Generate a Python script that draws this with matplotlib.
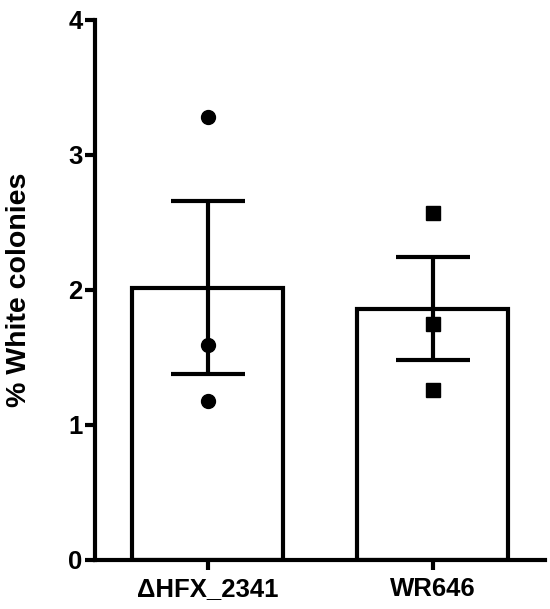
import numpy as np
import matplotlib
matplotlib.use("Agg")
import matplotlib.pyplot as plt

# data (% white colonies, 3 replicates each)
groups = ["\u0394HFX_2341", "WR646"]
reps_dhfx = [3.28, 1.59, 1.18]
reps_wr646 = [2.57, 1.75, 1.26]
yticks = [0, 1, 2, 3, 4]

plt.rcParams['font.family'] = ['Liberation Sans', 'DejaVu Sans']

reps = [np.array(reps_dhfx), np.array(reps_wr646)]
means = [r.mean() for r in reps]
sems = [r.std(ddof=1) / np.sqrt(len(r)) for r in reps]
x = np.arange(len(groups))

fig = plt.figure(figsize=(5.5, 6.09), dpi=100)
ax = fig.add_axes([0.1727, 0.0805, 0.8183, 0.8867])

lw = 3
ax.bar(x, means, width=0.67, color='white', edgecolor='black', linewidth=lw,
       joinstyle='miter', zorder=2)
ax.errorbar(x, means, yerr=sems, fmt='none', ecolor='black', elinewidth=lw,
            capsize=26.5, capthick=lw, zorder=3)

markers = ['o', 's']
for i, r in enumerate(reps):
    ax.plot(np.full(len(r), x[i]), r, linestyle='none', marker=markers[i],
            markersize=10, color='black', zorder=4)

ax.set_xlim(-0.5, 1.5)
ax.set_ylim(0, 4)
ax.set_yticks(yticks)
ax.set_xticks(x)
ax.set_xticklabels(groups)

for s in ['top', 'right']:
    ax.spines[s].set_visible(False)
for s in ['left', 'bottom']:
    ax.spines[s].set_linewidth(lw)

ax.tick_params(axis='both', width=lw, length=7, labelsize=18.5)
ax.tick_params(axis='y', pad=2)
ax.tick_params(axis='x', pad=5)
for lab in ax.get_xticklabels() + ax.get_yticklabels():
    lab.set_fontweight('bold')

ax.set_ylabel("% White colonies", fontsize=20.5, fontweight='bold')
ax.yaxis.set_label_coords(-0.14, 0.5)

fig.savefig('out.png', dpi=100)
